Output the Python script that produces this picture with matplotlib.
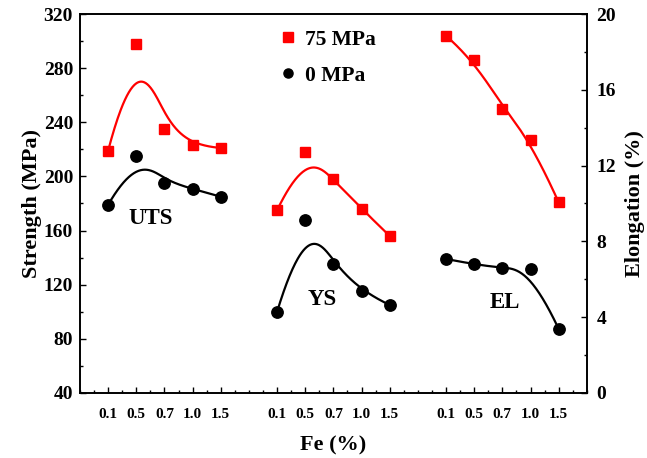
import numpy as np
import matplotlib
matplotlib.use("Agg")
import matplotlib.pyplot as plt
from matplotlib.ticker import FixedLocator, MultipleLocator

plt.rcParams['font.family'] = ['Liberation Serif', 'DejaVu Serif']
plt.rcParams['font.weight'] = 'bold'

fe_labels = ['0.1', '0.5', '0.7', '1.0', '1.5']
groups = ['UTS', 'YS', 'EL']
group_start = [1, 7, 13]

uts_75 = [219, 298, 235, 223, 221]
uts_0 = [179, 215, 195, 191, 185]
ys_75 = [175, 218, 198, 176, 156]
ys_0 = [100, 168, 135, 115, 105]
el_75 = [18.85, 17.55, 14.97, 13.35, 10.06]
el_0 = [7.07, 6.79, 6.58, 6.53, 3.38]

RED = '#ff0000'
BLACK = '#000000'


def bspline(xc, yc, n=200, k=3):
    pts = np.column_stack([xc, yc]).astype(float)
    m = len(pts)
    inner = np.linspace(0, 1, m - k + 1)[1:-1]
    knots = np.concatenate([np.zeros(k + 1), inner, np.ones(k + 1)])
    ts = np.linspace(0, 1, n)
    out = []
    for t in ts:
        if t >= 1.0:
            out.append(pts[-1]); continue
        s = np.searchsorted(knots, t, side='right') - 1
        d = [pts[j + s - k].copy() for j in range(k + 1)]
        for r in range(1, k + 1):
            for j in range(k, r - 1, -1):
                i = j + s - k
                a = (t - knots[i]) / (knots[i + 1 + k - r] - knots[i])
                d[j] = (1 - a) * d[j - 1] + a * d[j]
        out.append(d[k])
    out = np.array(out)
    return out[:, 0], out[:, 1]


fig = plt.figure(figsize=(6.47, 4.58), dpi=100)
ax = fig.add_axes([0.1236, 0.142, 0.7834, 0.8274])
ax2 = ax.twinx()

xs_all = []
def positions(g):
    return np.arange(group_start[g], group_start[g] + len(fe_labels))

ms_sq = 7.2
ms_c = 8.2
for g, (s75, s0, a) in enumerate([(uts_75, uts_0, ax), (ys_75, ys_0, ax), (el_75, el_0, ax2)]):
    x = positions(g)
    xs_all.extend(x)
    bx, by = bspline(x, s75)
    a.plot(bx, by, color=RED, lw=1.6, zorder=2)
    a.plot(x, s75, 's', color=RED, ms=ms_sq, zorder=3)
    bx, by = bspline(x, s0)
    a.plot(bx, by, color=BLACK, lw=1.6, zorder=2)
    a.plot(x, s0, 'o', color=BLACK, ms=ms_c, zorder=3)

ax.set_xlim(0, 18)
ax.set_ylim(40, 320)
ax2.set_ylim(0, 20)

ax.xaxis.set_major_locator(FixedLocator(xs_all))
ax.set_xticklabels(fe_labels * 3)
ax.xaxis.set_minor_locator(MultipleLocator(0.5))
ax.yaxis.set_major_locator(MultipleLocator(40))
ax.yaxis.set_minor_locator(MultipleLocator(20))
ax2.yaxis.set_major_locator(MultipleLocator(4))
ax2.yaxis.set_minor_locator(MultipleLocator(2))

ax.tick_params(axis='x', which='major', direction='in', length=4, width=1, labelsize=11, pad=11)
ax.tick_params(axis='x', which='minor', direction='in', length=2.5, width=1)
ax.tick_params(axis='y', which='major', direction='in', length=4, width=1, labelsize=14, pad=5)
ax.tick_params(axis='y', which='minor', direction='in', length=2.5, width=1)
ax.tick_params(top=False, which='both')
ax2.tick_params(axis='y', which='major', direction='in', length=4, width=1, labelsize=14, pad=7)
ax2.tick_params(axis='y', which='minor', direction='in', length=2.5, width=1)
for a in (ax, ax2):
    for sp in a.spines.values():
        sp.set_linewidth(1.2)

ax.set_xlabel('Fe (%)', fontsize=16, fontweight='bold', labelpad=10)
ax.set_ylabel('Strength (MPa)', fontsize=16, fontweight='bold', labelpad=1)
ax2.set_ylabel('Elongation (%)', fontsize=16, fontweight='bold', labelpad=6)

ax.text(2.5, 168.8, 'UTS', fontsize=16.5, fontweight='bold', ha='center', va='center')
ax.text(8.6, 109.4, 'YS', fontsize=16.5, fontweight='bold', ha='center', va='center')
ax.text(15.1, 106.8, 'EL', fontsize=16.5, fontweight='bold', ha='center', va='center')

h1 = plt.Line2D([], [], marker='s', color=RED, ls='none', ms=ms_sq)
h2 = plt.Line2D([], [], marker='o', color=BLACK, ls='none', ms=ms_c * 0.8)
ax.legend([h1, h2], ['75 MPa', '0 MPa'], loc='upper left', bbox_to_anchor=(0.36, 1.01),
          frameon=False, prop={'size': 15.5, 'weight': 'bold'}, handlelength=0.6,
          handletextpad=0.5, labelspacing=0.75, borderpad=0.4)

fig.savefig('out.png', dpi=100)
